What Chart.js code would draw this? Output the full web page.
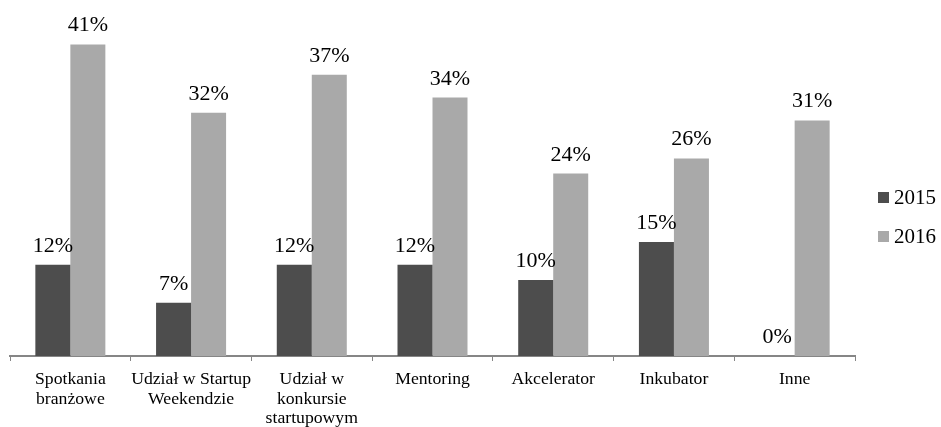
<!DOCTYPE html>
<html>
<head>
<meta charset="utf-8">
<script src="https://cdn.jsdelivr.net/npm/chart.js@4.4.1/dist/chart.umd.min.js"></script>
<style>
  html, body { margin: 0; padding: 0; background: #fff; }
  #wrap { position: relative; width: 941px; height: 427px; }
  #legend { position: absolute; left: 878px; top: 178px; font-family: "Liberation Serif", "Times New Roman", serif; font-size: 21px; color: #000; }
  #legend div { height: 39px; display: flex; align-items: center; }
  #legend span.sw { display: inline-block; width: 11px; height: 11px; margin-right: 5px; }
</style>
</head>
<body>
<div id="wrap">
  <canvas id="chart" width="941" height="427"></canvas>
  <div id="legend"></div>
</div>
<script>
// ========== DATA ==========
const categories = [
  ['Spotkania', 'branżowe'],
  ['Udział w Startup', 'Weekendzie'],
  ['Udział w', 'konkursie', 'startupowym'],
  'Mentoring',
  'Akcelerator',
  'Inkubator',
  'Inne'
];
const seriesNames = ['2015', '2016'];
const values2015 = [12, 7, 12, 12, 10, 15, 0];
const values2016 = [41, 32, 37, 34, 24, 26, 31];
const colors = ['#4d4d4d', '#a9a9a9'];
const FONT = '"Liberation Serif", "Times New Roman", serif';

// value labels above each bar
const barLabels = {
  id: 'barLabels',
  afterDatasetsDraw(chart) {
    const ctx = chart.ctx;
    ctx.save();
    ctx.font = `22px ${FONT}`;
    ctx.fillStyle = '#000';
    ctx.textAlign = 'center';
    ctx.textBaseline = 'alphabetic';
    chart.data.datasets.forEach((ds, i) => {
      chart.getDatasetMeta(i).data.forEach((bar, j) => {
        ctx.fillText(ds.data[j] + '%', bar.x, bar.y - 13);
      });
    });
    ctx.restore();
  }
};

new Chart(document.getElementById('chart'), {
  type: 'bar',
  data: {
    labels: categories,
    datasets: [
      { label: seriesNames[0], data: values2015, backgroundColor: colors[0] },
      { label: seriesNames[1], data: values2016, backgroundColor: colors[1] }
    ]
  },
  options: {
    responsive: false,
    animation: false,
    layout: { padding: { left: 10, right: 86, top: 14, bottom: 0 } },
    datasets: { bar: { categoryPercentage: 0.58, barPercentage: 1 } },
    plugins: { legend: { display: false }, tooltip: { enabled: false } },
    scales: {
      x: {
        // fixed axis band so the plot keeps its height with 3-line labels
        afterFit(scale) { scale.height = 71; },
        grid: { drawOnChartArea: false, color: '#868686', tickLength: 5, tickColor: '#868686' },
        border: { color: '#868686', width: 2 },
        ticks: { color: '#000', font: { family: FONT, size: 17.7, lineHeight: 1.1 }, maxRotation: 0, autoSkip: false, padding: 9 }
      },
      y: { display: false, min: 0, max: 45 }
    }
  },
  plugins: [barLabels]
});

// legend
const legend = document.getElementById('legend');
seriesNames.forEach((name, i) => {
  legend.innerHTML += `<div><span class="sw" style="background:${colors[i]}"></span>${name}</div>`;
});
</script>
</body>
</html>
